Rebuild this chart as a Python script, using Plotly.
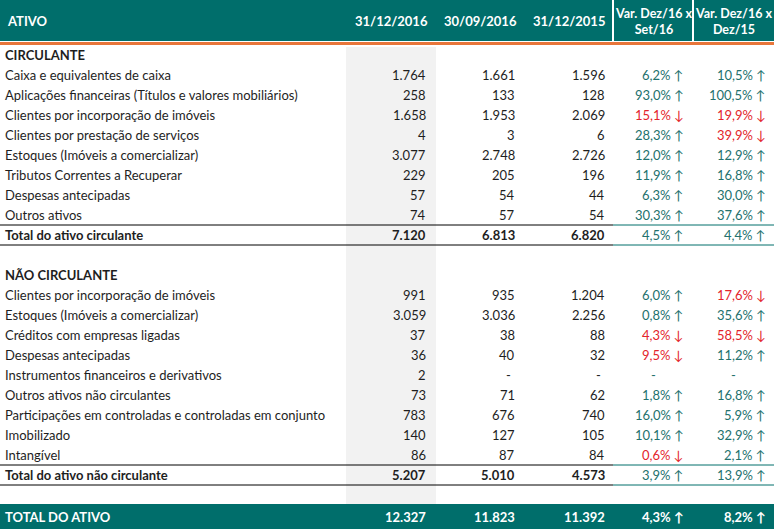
import plotly.graph_objects as go

# --- data -------------------------------------------------------------
labels = [
    "CIRCULANTE",
    "Caixa e equivalentes de caixa",
    "Aplicações financeiras (Títulos e valores mobiliários)",
    "Clientes por incorporação de imóveis",
    "Clientes por prestação de serviços",
    "Estoques (Imóveis a comercializar)",
    "Tributos Correntes a Recuperar",
    "Despesas antecipadas",
    "Outros ativos",
    "Total do ativo circulante",
    "",
    "NÃO CIRCULANTE",
    "Clientes por incorporação de imóveis",
    "Estoques (Imóveis a comercializar)",
    "Créditos com empresas ligadas",
    "Despesas antecipadas",
    "Instrumentos financeiros e derivativos",
    "Outros ativos não circulantes",
    "Participações em controladas e controladas em conjunto",
    "Imobilizado",
    "Intangível",
    "Total do ativo não circulante",
]
# row kinds: s = section title, n = normal, t = subtotal, b = blank
kinds = ["s", "n", "n", "n", "n", "n", "n", "n", "n", "t", "b",
         "s", "n", "n", "n", "n", "n", "n", "n", "n", "n", "t"]

dez16 = [None, 1764, 258, 1658, 4, 3077, 229, 57, 74, 7120, None,
         None, 991, 3059, 37, 36, 2, 73, 783, 140, 86, 5207]
set16 = [None, 1661, 133, 1953, 3, 2748, 205, 54, 57, 6813, None,
         None, 935, 3036, 38, 40, None, 71, 676, 127, 87, 5010]
dez15 = [None, 1596, 128, 2069, 6, 2726, 196, 44, 54, 6820, None,
         None, 1204, 2256, 88, 32, None, 62, 740, 105, 84, 4573]
var_set16 = [None, 6.2, 93.0, -15.1, 28.3, 12.0, 11.9, 6.3, 30.3, 4.5, None,
             None, 6.0, 0.8, -4.3, -9.5, None, 1.8, 16.0, 10.1, -0.6, 3.9]
var_dez15 = [None, 10.5, 100.5, -19.9, -39.9, 12.9, 16.8, 30.0, 37.6, 4.4, None,
             None, -17.6, 35.6, -58.5, 11.2, None, 16.8, 5.9, 32.9, 2.1, 13.9]

total_label = "TOTAL DO ATIVO"
total_values = [12327, 11823, 11392]
total_vars = [4.3, 8.2]

header_cols = ["31/12/2016", "30/09/2016", "31/12/2015"]
header_vars = ["Var. Dez/16 x<br>Set/16", "Var. Dez/16 x<br>Dez/15"]

# --- style ------------------------------------------------------------
TEAL = "#006e6b"
UP = "#23716d"
DOWN = "#e3242b"
ORANGE = "#e8763a"
TXT = "#1e1e1e"
FONT = "Lato"
FS = 13

W, H = 774, 529
# y in row units: row i centred at pixel 55 + 20*i
def ry(px):
    return (px - 55) / 20.0

num_right = [428, 517, 607]
col_center = [391, 480, 569]
var_right = [686, 768]
var_center = [653, 733]


def fmt_num(v):
    return f"{v:,}".replace(",", ".")


def fmt_var(v):
    arrow = "↑" if v >= 0 else "↓"
    return f"{abs(v):.1f}".replace(".", ",") + "% " + arrow


fig = go.Figure()
# invisible trace so the axes exist
fig.add_trace(go.Scatter(x=[0, W], y=[ry(0), ry(H)], mode="markers",
                         marker=dict(opacity=0), hoverinfo="skip", showlegend=False))

shapes = []
ann = []

# header band
shapes.append(dict(type="rect", x0=0, x1=W, y0=ry(0), y1=ry(41), fillcolor=TEAL, line_width=0, layer="below"))
for xs in (613, 693):
    shapes.append(dict(type="line", x0=xs, x1=xs, y0=ry(0), y1=ry(41), line=dict(color="white", width=2)))
shapes.append(dict(type="line", x0=0, x1=W, y0=ry(43.5), y1=ry(43.5), line=dict(color=ORANGE, width=3)))
# shaded current period column
shapes.append(dict(type="rect", x0=346, x1=436, y0=ry(47), y1=ry(504), fillcolor="#f2f2f2", line_width=0, layer="below"))
# grand total band
shapes.append(dict(type="rect", x0=0, x1=W, y0=ry(504), y1=ry(H), fillcolor=TEAL, line_width=0, layer="below"))

hy = ry(21)
ann.append(dict(x=5, y=hy, text="<b>ATIVO</b>", xanchor="left", font=dict(color="white")))
for c, t in zip(col_center, header_cols):
    ann.append(dict(x=c, y=hy, text=f"<b>{t}</b>", xanchor="center", font=dict(color="white")))
for c, t in zip(var_center, header_vars):
    ann.append(dict(x=c, y=hy, text=f"<b>{t}</b>", xanchor="center", font=dict(color="white", size=12.5)))

for i, (lab, kind) in enumerate(zip(labels, kinds)):
    if kind == "b":
        continue
    bold = kind in ("s", "t")
    ann.append(dict(x=3, y=i, text=f"<b>{lab}</b>" if bold else lab, xanchor="left",
                    font=dict(color=TXT)))
    if kind == "s":
        continue
    if kind == "t":
        for x0, x1, col in ((0, 613, "black"), (613, W, TEAL)):
            for yy in (i - 0.5, i + 0.5):
                shapes.append(dict(type="line", x0=x0, x1=x1, y0=yy, y1=yy, line=dict(color=col, width=1)))
    for k, series in enumerate((dez16, set16, dez15)):
        v = series[i]
        if v is None:
            ann.append(dict(x=num_right[k] - 4, y=i, text="-", xanchor="right", font=dict(color=TXT)))
        else:
            t = fmt_num(v)
            ann.append(dict(x=num_right[k], y=i, text=f"<b>{t}</b>" if bold else t,
                            xanchor="right", font=dict(color=TXT)))
    for k, series in enumerate((var_set16, var_dez15)):
        v = series[i]
        if v is None:
            ann.append(dict(x=var_center[k], y=i, text="-", xanchor="center", font=dict(color=UP)))
        else:
            ann.append(dict(x=var_right[k], y=i, text=fmt_var(v), xanchor="right",
                            font=dict(color=UP if v >= 0 else DOWN)))

ty = ry(517)
ann.append(dict(x=3, y=ty, text=f"<b>{total_label}</b>", xanchor="left", font=dict(color="white")))
for k, v in enumerate(total_values):
    ann.append(dict(x=num_right[k], y=ty, text=f"<b>{fmt_num(v)}</b>", xanchor="right", font=dict(color="white")))
for k, v in enumerate(total_vars):
    ann.append(dict(x=var_right[k], y=ty, text=f"<b>{fmt_var(v)}</b>", xanchor="right", font=dict(color="white")))

for a in ann:
    a.update(xref="x", yref="y", showarrow=False, yanchor="middle")
    a["font"].setdefault("size", FS)
    a["font"]["family"] = FONT

fig.update_layout(
    width=W, height=H,
    margin=dict(l=0, r=0, t=0, b=0),
    paper_bgcolor="white", plot_bgcolor="white",
    xaxis=dict(range=[0, W], visible=False, fixedrange=True),
    yaxis=dict(range=[ry(H), ry(0)], visible=False, fixedrange=True),
    shapes=shapes, annotations=ann,
    showlegend=False,
)

fig.write_html("out.html", config={"displayModeBar": False},
               post_script="document.body.style.margin='0';document.body.style.overflow='hidden';")
